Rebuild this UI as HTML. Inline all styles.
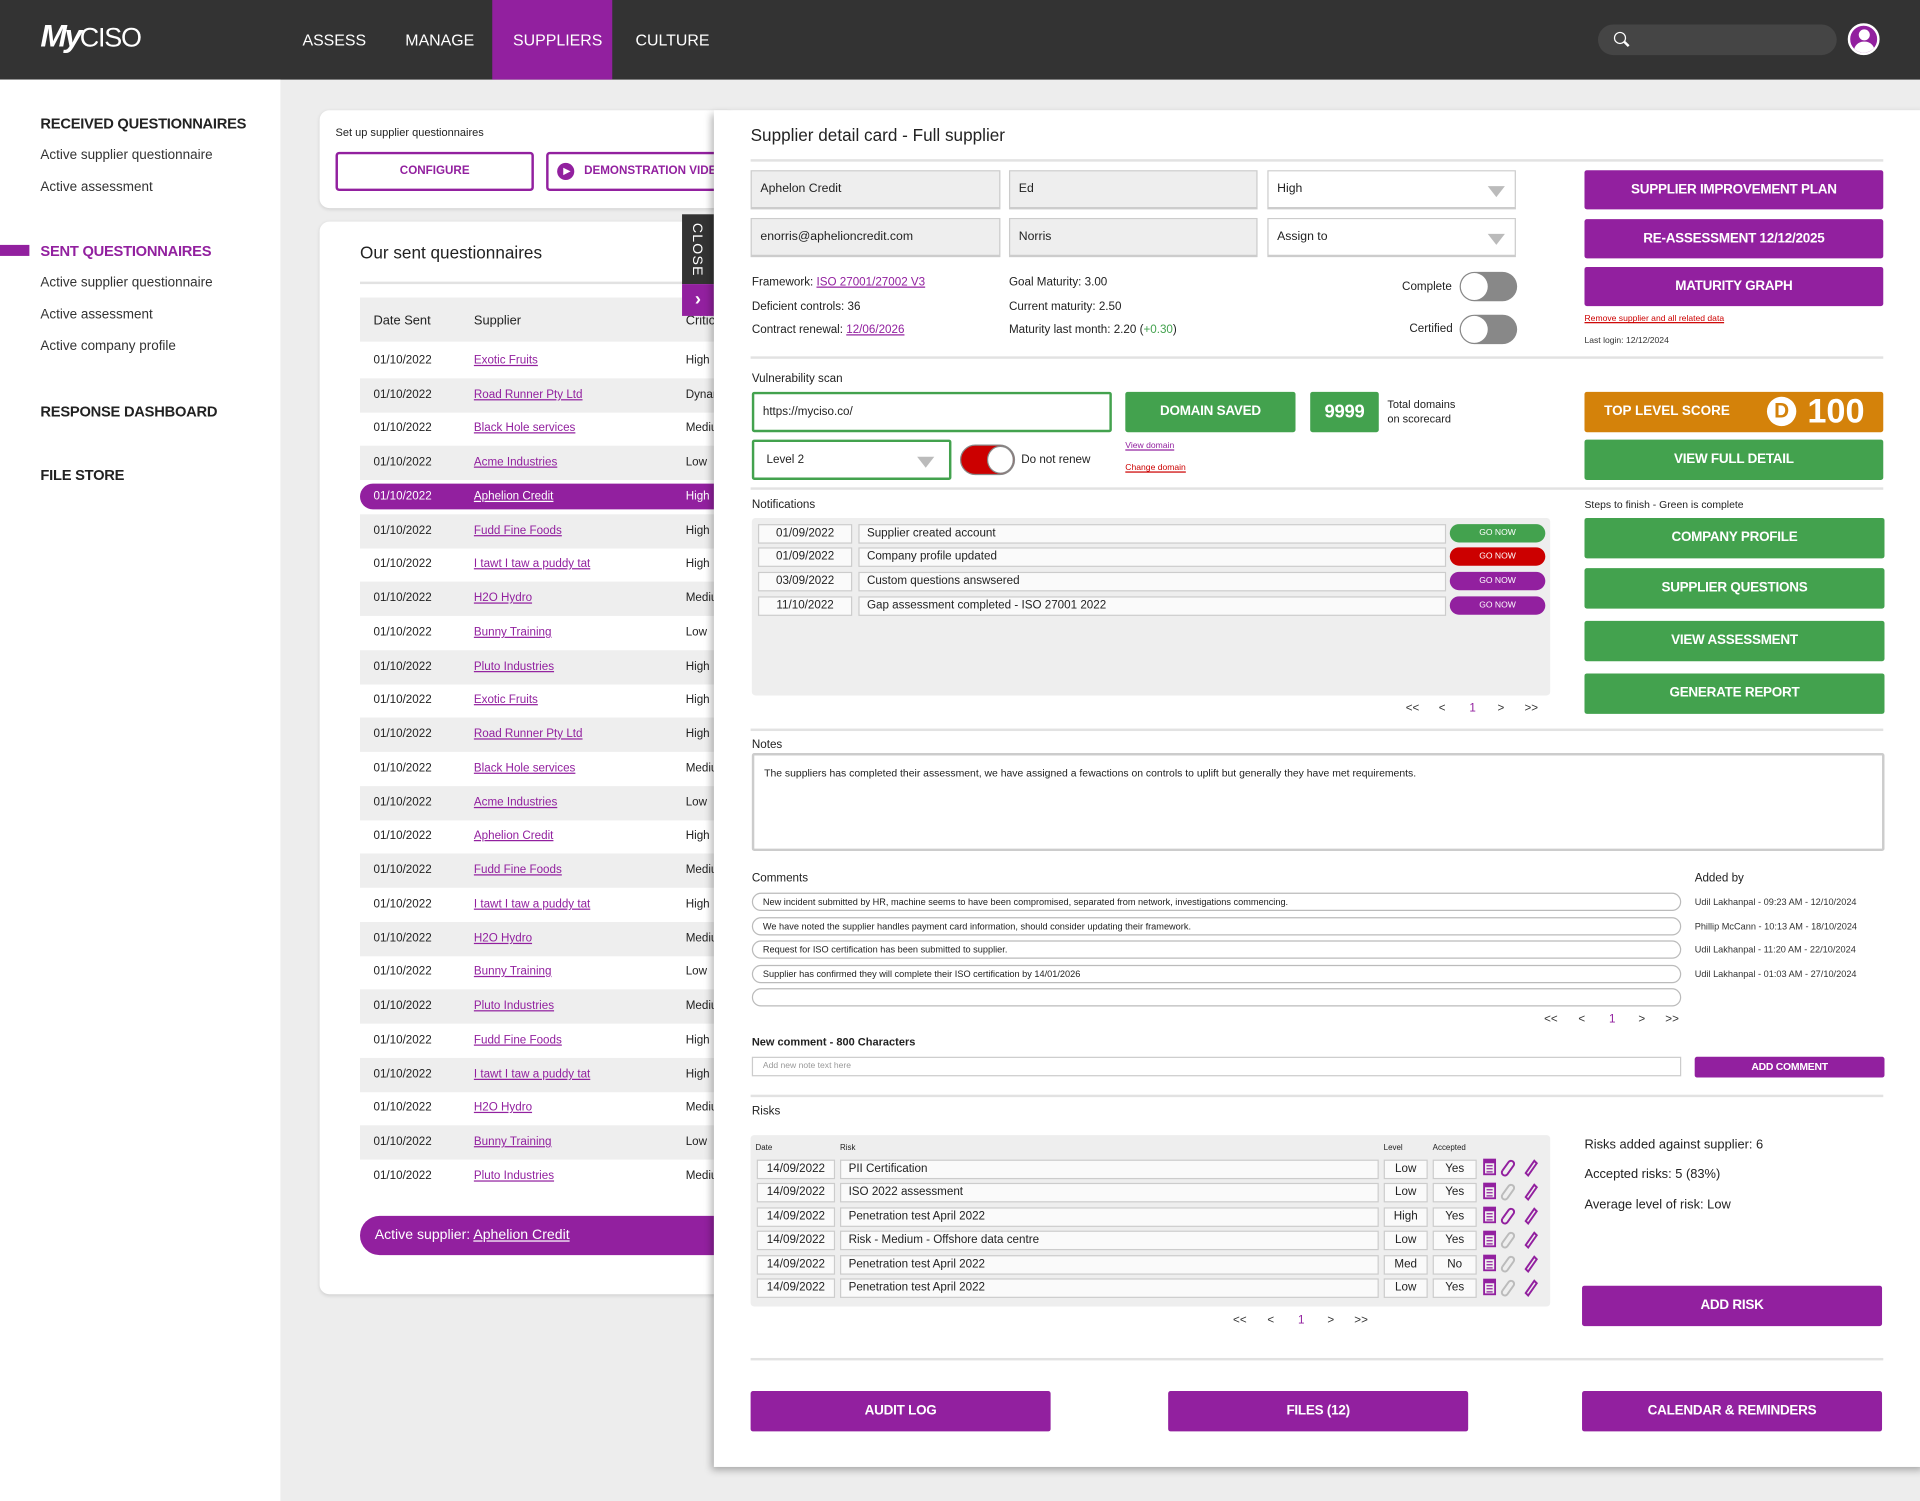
<!DOCTYPE html>
<html><head><meta charset="utf-8"><style>
*{box-sizing:border-box;margin:0;padding:0}
body{width:1920px;height:1501px;overflow:hidden;background:#ededed;font-family:"Liberation Sans",sans-serif;color:#222}
#w{position:absolute;left:0;top:0;width:1568px;height:1226px;transform:scale(1.22449);transform-origin:0 0}
.a{position:absolute;white-space:nowrap}
.bar{background:#333}
.nav{color:#fff;font-size:13px;top:25px}
.sb{font-size:12px;font-weight:bold;color:#222;left:33px;letter-spacing:-0.2px}
.si{font-size:11px;color:#333;left:33px}
.card{background:#fff;border-radius:8px;box-shadow:0 1px 3px rgba(0,0,0,.12)}
.lnk{color:#92209f;text-decoration:underline}
.row{left:294px;width:290px;height:28px;font-size:9.5px;line-height:28px}
.row span{position:absolute}
.g{background:#eee}
.pb{background:#92209f;color:#fff;font-size:11px;text-align:center;border-radius:2px;font-weight:bold;letter-spacing:-0.2px}
.gb{background:#43a24e;color:#fff;font-size:11px;text-align:center;border-radius:2px;font-weight:bold;letter-spacing:-0.2px}
.inp{background:#eee;border:1px solid #ccc;border-bottom:2px solid #ccc;font-size:10px;padding-left:7px;line-height:30px}
.sel{background:#fff;border:1px solid #ccc;border-bottom:2px solid #ccc;font-size:10px;padding-left:7px;line-height:30px}
.tri{position:absolute;right:8px;top:12px;width:0;height:0;border-left:7px solid transparent;border-right:7px solid transparent;border-top:9px solid #bbb}
.t{font-size:9.5px;color:#222}
.hl{height:2px;background:#e2e2e2;left:613px;width:925px}
.nb{background:#fafafa;border:1px solid #ccc;font-size:9.5px;line-height:14px;padding-left:6px;height:16px}
.go{font-size:7px;color:#fff;text-align:center;line-height:15px;border-radius:8px;height:15px;width:78px;left:1184px}
.cm{left:614px;width:759px;height:15px;border:1px solid #bbb;border-radius:8px;font-size:7.5px;line-height:13px;padding-left:8px}
.ab{left:1384px;font-size:7.5px;color:#333}
.pg{font-size:9.5px;color:#333}
</style></head><body><div id="w">
<div class="a bar" style="left:0;top:0;width:1568px;height:65px"></div>
<div class="a" style="left:33px;top:14px;color:#fff;font-size:26px;font-weight:bold;letter-spacing:-2px;font-style:italic">My<span style="font-weight:normal;font-style:normal;letter-spacing:-1px;font-size:22px">CISO</span></div>
<div class="a nav" style="left:247px">ASSESS</div>
<div class="a nav" style="left:331px">MANAGE</div>
<div class="a" style="left:402px;top:0;width:98px;height:65px;background:#92209f"></div>
<div class="a nav" style="left:419px">SUPPLIERS</div>
<div class="a nav" style="left:519px">CULTURE</div>
<div class="a" style="left:1305px;top:20px;width:195px;height:25px;border-radius:13px;background:#454545"></div>
<div class="a" style="left:1318px;top:26px;width:10px;height:10px;border:1.5px solid #fff;border-radius:50%"></div>
<div class="a" style="left:1326px;top:35px;width:5px;height:1.5px;background:#fff;transform:rotate(45deg)"></div>
<div class="a" style="left:1509px;top:19px;width:26px;height:26px;border-radius:50%;background:#92209f;border:2px solid #fff;overflow:hidden"><div class="a" style="left:7px;top:3px;width:9px;height:9px;border-radius:50%;background:#fff"></div><div class="a" style="left:3px;top:13px;width:17px;height:12px;border-radius:8px 8px 0 0;background:#fff"></div></div>

<div class="a" style="left:0;top:65px;width:229px;height:1161px;background:#fff"></div>
<div class="a sb" style="top:94px">RECEIVED QUESTIONNAIRES</div>
<div class="a si" style="top:121px">Active supplier questionnaire</div>
<div class="a si" style="top:147px">Active assessment</div>
<div class="a" style="left:0;top:200px;width:24px;height:9px;background:#92209f"></div>
<div class="a sb" style="top:198px;color:#92209f">SENT QUESTIONNAIRES</div>
<div class="a si" style="top:225px">Active supplier questionnaire</div>
<div class="a si" style="top:251px">Active assessment</div>
<div class="a si" style="top:277px">Active company profile</div>
<div class="a sb" style="top:329px">RESPONSE DASHBOARD</div>
<div class="a sb" style="top:381px">FILE STORE</div>

<div class="a card" style="left:261px;top:90px;width:340px;height:80px"></div>
<div class="a" style="left:274px;top:103px;font-size:9px">Set up supplier questionnaires</div>
<div class="a" style="left:274px;top:124px;width:162px;height:32px;border:2px solid #92209f;border-radius:3px;color:#92209f;font-weight:bold;font-size:9.5px;text-align:center;line-height:28px">CONFIGURE</div>
<div class="a" style="left:446px;top:124px;width:160px;height:32px;border:2px solid #92209f;border-radius:3px;color:#92209f;font-weight:bold;font-size:9.5px;line-height:28px;padding-left:29px">DEMONSTRATION VIDEO</div>
<div class="a" style="left:455px;top:133px;width:14px;height:14px;border-radius:50%;background:#92209f"></div>
<div class="a" style="left:460px;top:137px;border-left:6px solid #fff;border-top:3px solid transparent;border-bottom:3px solid transparent"></div>

<div class="a card" style="left:261px;top:181px;width:340px;height:876px"></div>
<div class="a" style="left:294px;top:198px;font-size:14px">Our sent questionnaires</div>
<div class="a" style="left:294px;top:230px;width:290px;height:2px;background:#e2e2e2"></div>
<div class="a g" style="left:294px;top:243px;width:290px;height:36px"></div>
<div class="a" style="left:305px;top:256px;font-size:10.5px">Date Sent</div>
<div class="a" style="left:387px;top:256px;font-size:10.5px">Supplier</div>
<div class="a" style="left:560px;top:256px;font-size:10.5px">Criticality</div>

<div class="a row" style="top:281px"><span style="left:11px">01/10/2022</span><span style="left:93px" class="lnk">Exotic Fruits</span><span style="left:266px">High</span></div>
<div class="a row g" style="top:309px"><span style="left:11px">01/10/2022</span><span style="left:93px" class="lnk">Road Runner Pty Ltd</span><span style="left:266px">Dynamic</span></div>
<div class="a row" style="top:336px"><span style="left:11px">01/10/2022</span><span style="left:93px" class="lnk">Black Hole services</span><span style="left:266px">Medium</span></div>
<div class="a row g" style="top:364px"><span style="left:11px">01/10/2022</span><span style="left:93px" class="lnk">Acme Industries</span><span style="left:266px">Low</span></div>
<div class="a row" style="top:395px;height:21px;line-height:21px;background:#92209f;color:#fff;border-radius:11px 0 0 11px"><span style="left:11px">01/10/2022</span><span style="left:93px;text-decoration:underline">Aphelion Credit</span><span style="left:266px">High</span></div>
<div class="a row g" style="top:420px"><span style="left:11px">01/10/2022</span><span style="left:93px" class="lnk">Fudd Fine Foods</span><span style="left:266px">High</span></div>
<div class="a row" style="top:447px"><span style="left:11px">01/10/2022</span><span style="left:93px" class="lnk">I tawt I taw a puddy tat</span><span style="left:266px">High</span></div>
<div class="a row g" style="top:475px"><span style="left:11px">01/10/2022</span><span style="left:93px" class="lnk">H2O Hydro</span><span style="left:266px">Medium</span></div>
<div class="a row" style="top:503px"><span style="left:11px">01/10/2022</span><span style="left:93px" class="lnk">Bunny Training</span><span style="left:266px">Low</span></div>
<div class="a row g" style="top:531px"><span style="left:11px">01/10/2022</span><span style="left:93px" class="lnk">Pluto Industries</span><span style="left:266px">High</span></div>
<div class="a row" style="top:558px"><span style="left:11px">01/10/2022</span><span style="left:93px" class="lnk">Exotic Fruits</span><span style="left:266px">High</span></div>
<div class="a row g" style="top:586px"><span style="left:11px">01/10/2022</span><span style="left:93px" class="lnk">Road Runner Pty Ltd</span><span style="left:266px">High</span></div>
<div class="a row" style="top:614px"><span style="left:11px">01/10/2022</span><span style="left:93px" class="lnk">Black Hole services</span><span style="left:266px">Medium</span></div>
<div class="a row g" style="top:642px"><span style="left:11px">01/10/2022</span><span style="left:93px" class="lnk">Acme Industries</span><span style="left:266px">Low</span></div>
<div class="a row" style="top:669px"><span style="left:11px">01/10/2022</span><span style="left:93px" class="lnk">Aphelion Credit</span><span style="left:266px">High</span></div>
<div class="a row g" style="top:697px"><span style="left:11px">01/10/2022</span><span style="left:93px" class="lnk">Fudd Fine Foods</span><span style="left:266px">Medium</span></div>
<div class="a row" style="top:725px"><span style="left:11px">01/10/2022</span><span style="left:93px" class="lnk">I tawt I taw a puddy tat</span><span style="left:266px">High</span></div>
<div class="a row g" style="top:753px"><span style="left:11px">01/10/2022</span><span style="left:93px" class="lnk">H2O Hydro</span><span style="left:266px">Medium</span></div>
<div class="a row" style="top:780px"><span style="left:11px">01/10/2022</span><span style="left:93px" class="lnk">Bunny Training</span><span style="left:266px">Low</span></div>
<div class="a row g" style="top:808px"><span style="left:11px">01/10/2022</span><span style="left:93px" class="lnk">Pluto Industries</span><span style="left:266px">Medium</span></div>
<div class="a row" style="top:836px"><span style="left:11px">01/10/2022</span><span style="left:93px" class="lnk">Fudd Fine Foods</span><span style="left:266px">High</span></div>
<div class="a row g" style="top:864px"><span style="left:11px">01/10/2022</span><span style="left:93px" class="lnk">I tawt I taw a puddy tat</span><span style="left:266px">High</span></div>
<div class="a row" style="top:891px"><span style="left:11px">01/10/2022</span><span style="left:93px" class="lnk">H2O Hydro</span><span style="left:266px">Medium</span></div>
<div class="a row g" style="top:919px"><span style="left:11px">01/10/2022</span><span style="left:93px" class="lnk">Bunny Training</span><span style="left:266px">Low</span></div>
<div class="a row" style="top:947px"><span style="left:11px">01/10/2022</span><span style="left:93px" class="lnk">Pluto Industries</span><span style="left:266px">Medium</span></div>
<div class="a" style="left:294px;top:993px;width:300px;height:32px;background:#92209f;border-radius:16px 0 0 16px;color:#fff;font-size:11.5px;line-height:32px;padding-left:12px">Active supplier: <span style="text-decoration:underline">Aphelion Credit</span></div>

<div class="a" style="left:557px;top:175px;width:26px;height:57px;background:#333"></div>
<div class="a" style="left:563px;top:182px;color:#fff;font-size:11.5px;writing-mode:vertical-rl;letter-spacing:1px">CLOSE</div>
<div class="a" style="left:557px;top:232px;width:26px;height:26px;background:#92209f;color:#fff;font-size:15px;font-weight:bold;text-align:center;line-height:26px">›</div>

<div class="a" style="left:583px;top:90px;width:990px;height:1108px;background:#fff;box-shadow:-2px 3px 6px rgba(0,0,0,.3)"></div>
<div class="a" style="left:613px;top:102px;font-size:14px">Supplier detail card - Full supplier</div>
<div class="a hl" style="top:130px"></div>
<div class="a inp" style="left:613px;top:139px;width:204px;height:32px">Aphelon Credit</div>
<div class="a inp" style="left:824px;top:139px;width:203px;height:32px">Ed</div>
<div class="a sel" style="left:1035px;top:139px;width:203px;height:32px">High<div class="tri"></div></div>
<div class="a inp" style="left:613px;top:178px;width:204px;height:32px">enorris@aphelioncredit.com</div>
<div class="a inp" style="left:824px;top:178px;width:203px;height:32px">Norris</div>
<div class="a sel" style="left:1035px;top:178px;width:203px;height:32px">Assign to<div class="tri"></div></div>
<div class="a pb" style="left:1294px;top:139px;width:244px;height:32px;line-height:32px">SUPPLIER IMPROVEMENT PLAN</div>
<div class="a pb" style="left:1294px;top:179px;width:244px;height:32px;line-height:32px">RE-ASSESSMENT 12/12/2025</div>
<div class="a pb" style="left:1294px;top:218px;width:244px;height:32px;line-height:32px">MATURITY GRAPH</div>
<div class="a t" style="left:614px;top:225px">Framework: <span class="lnk">ISO 27001/27002 V3</span></div>
<div class="a t" style="left:614px;top:245px">Deficient controls: 36</div>
<div class="a t" style="left:614px;top:264px">Contract renewal: <span class="lnk">12/06/2026</span></div>
<div class="a t" style="left:824px;top:225px">Goal Maturity: 3.00</div>
<div class="a t" style="left:824px;top:245px">Current maturity: 2.50</div>
<div class="a t" style="left:824px;top:264px">Maturity last month: 2.20 (<span style="color:#43a24e">+0.30</span>)</div>
<div class="a t" style="left:1145px;top:229px">Complete</div>
<div class="a t" style="left:1151px;top:263px">Certified</div>
<div class="a" style="left:1192px;top:222px;width:47px;height:24px;border-radius:12px;background:#888"></div>
<div class="a" style="left:1193px;top:223px;width:22px;height:22px;border-radius:50%;background:#fff"></div>
<div class="a" style="left:1192px;top:257px;width:47px;height:24px;border-radius:12px;background:#888"></div>
<div class="a" style="left:1193px;top:258px;width:22px;height:22px;border-radius:50%;background:#fff"></div>
<div class="a" style="left:1294px;top:257px;font-size:7px;color:#c00;text-decoration:underline">Remove supplier and all related data</div>
<div class="a" style="left:1294px;top:275px;font-size:7px;color:#333">Last login: 12/12/2024</div>
<div class="a hl" style="top:291px"></div>

<div class="a t" style="left:614px;top:304px">Vulnerability scan</div>
<div class="a" style="left:614px;top:320px;width:294px;height:33px;border:2px solid #43a24e;border-radius:2px;font-size:9.5px;line-height:29px;padding-left:7px">https://myciso.co/</div>
<div class="a gb" style="left:919px;top:320px;width:139px;height:33px;line-height:33px">DOMAIN SAVED</div>
<div class="a gb" style="left:1070px;top:320px;width:56px;height:33px;line-height:33px;font-size:15px">9999</div>
<div class="a" style="left:1133px;top:324px;font-size:9px;line-height:12px">Total domains<br>on scorecard</div>
<div class="a" style="left:1294px;top:320px;width:244px;height:33px;background:#d4820a;border-radius:2px"></div>
<div class="a" style="left:1310px;top:330px;color:#fff;font-size:11px;font-weight:bold">TOP LEVEL SCORE</div>
<div class="a" style="left:1443px;top:324px;width:24px;height:24px;border-radius:50%;background:#fff;color:#d4820a;font-weight:bold;font-size:17px;text-align:center;line-height:24px">D</div>
<div class="a" style="left:1476px;top:320px;color:#fff;font-size:28px;font-weight:bold">100</div>
<div class="a" style="left:614px;top:359px;width:163px;height:33px;border:2px solid #43a24e;border-radius:2px;font-size:9.5px;line-height:29px;padding-left:10px">Level 2<div class="tri" style="right:12px"></div></div>
<div class="a" style="left:784px;top:363px;width:45px;height:25px;border-radius:13px;background:#c00;border:1px solid #888"></div>
<div class="a" style="left:806px;top:364px;width:22px;height:23px;border-radius:50%;background:#fff;border:1px solid #888"></div>
<div class="a t" style="left:834px;top:370px">Do not renew</div>
<div class="a" style="left:919px;top:361px;font-size:7px"><span class="lnk">View domain</span></div>
<div class="a" style="left:919px;top:379px;font-size:7px;color:#c00;text-decoration:underline">Change domain</div>
<div class="a gb" style="left:1294px;top:359px;width:244px;height:33px;line-height:33px">VIEW FULL DETAIL</div>
<div class="a hl" style="top:398px"></div>

<div class="a t" style="left:614px;top:407px">Notifications</div>
<div class="a t" style="left:1294px;top:407px;font-size:8.5px">Steps to finish - Green is complete</div>
<div class="a" style="left:614px;top:423px;width:652px;height:145px;background:#eee;border-radius:3px"></div>
<div class="a nb" style="left:619px;top:428px;width:77px;text-align:center;padding:0">01/09/2022</div>
<div class="a nb" style="left:701px;top:428px;width:480px">Supplier created account</div>
<div class="a go" style="top:428px;background:#43a24e">GO NOW</div>
<div class="a nb" style="left:619px;top:447px;width:77px;text-align:center;padding:0">01/09/2022</div>
<div class="a nb" style="left:701px;top:447px;width:480px">Company profile updated</div>
<div class="a go" style="top:447px;background:#c00">GO NOW</div>
<div class="a nb" style="left:619px;top:467px;width:77px;text-align:center;padding:0">03/09/2022</div>
<div class="a nb" style="left:701px;top:467px;width:480px">Custom questions answsered</div>
<div class="a go" style="top:467px;background:#92209f">GO NOW</div>
<div class="a nb" style="left:619px;top:487px;width:77px;text-align:center;padding:0">11/10/2022</div>
<div class="a nb" style="left:701px;top:487px;width:480px">Gap assessment completed - ISO 27001 2022</div>
<div class="a go" style="top:487px;background:#92209f">GO NOW</div>
<div class="a gb" style="left:1294px;top:423px;width:245px;height:33px;line-height:33px">COMPANY PROFILE</div>
<div class="a gb" style="left:1294px;top:464px;width:245px;height:33px;line-height:33px">SUPPLIER QUESTIONS</div>
<div class="a gb" style="left:1294px;top:507px;width:245px;height:33px;line-height:33px">VIEW ASSESSMENT</div>
<div class="a gb" style="left:1294px;top:550px;width:245px;height:33px;line-height:33px">GENERATE REPORT</div>
<div class="a pg" style="left:1148px;top:573px">&lt;&lt;</div><div class="a pg" style="left:1175px;top:573px">&lt;</div><div class="a pg" style="left:1200px;top:573px;color:#92209f">1</div><div class="a pg" style="left:1223px;top:573px">&gt;</div><div class="a pg" style="left:1245px;top:573px">&gt;&gt;</div>
<div class="a hl" style="top:595px"></div>

<div class="a t" style="left:614px;top:603px">Notes</div>
<div class="a" style="left:614px;top:615px;width:925px;height:80px;border:2px solid #ccc;border-radius:2px;font-size:8.5px;padding:9px 8px">The suppliers has completed their assessment, we have assigned a fewactions on controls to uplift but generally they have met requirements.</div>

<div class="a t" style="left:614px;top:712px">Comments</div>
<div class="a t" style="left:1384px;top:712px">Added by</div>
<div class="a cm" style="top:729px">New incident submitted by HR, machine seems to have been compromised, separated from network, investigations commencing.</div>
<div class="a cm" style="top:749px">We have noted the supplier handles payment card information, should consider updating their framework.</div>
<div class="a cm" style="top:768px">Request for ISO certification has been submitted to supplier.</div>
<div class="a cm" style="top:788px">Supplier has confirmed they will complete their ISO certification by 14/01/2026</div>
<div class="a cm" style="top:807px"></div>
<div class="a ab" style="top:732px">Udil Lakhanpal - 09:23 AM - 12/10/2024</div>
<div class="a ab" style="top:752px">Phillip McCann - 10:13 AM - 18/10/2024</div>
<div class="a ab" style="top:771px">Udil Lakhanpal - 11:20 AM - 22/10/2024</div>
<div class="a ab" style="top:791px">Udil Lakhanpal - 01:03 AM - 27/10/2024</div>
<div class="a pg" style="left:1261px;top:827px">&lt;&lt;</div><div class="a pg" style="left:1289px;top:827px">&lt;</div><div class="a pg" style="left:1314px;top:827px;color:#92209f">1</div><div class="a pg" style="left:1338px;top:827px">&gt;</div><div class="a pg" style="left:1360px;top:827px">&gt;&gt;</div>
<div class="a t" style="left:614px;top:846px;font-weight:bold;font-size:9px">New comment - 800 Characters</div>
<div class="a" style="left:614px;top:863px;width:759px;height:16px;border:1px solid #ccc;font-size:7px;color:#999;line-height:14px;padding-left:8px">Add new note text here</div>
<div class="a pb" style="left:1384px;top:863px;width:155px;height:17px;line-height:17px;font-size:8.5px">ADD COMMENT</div>
<div class="a hl" style="top:894px"></div>

<div class="a t" style="left:614px;top:902px">Risks</div>
<div class="a" style="left:613px;top:927px;width:653px;height:140px;background:#eee;border-radius:3px"></div>
<div class="a" style="left:617px;top:934px;font-size:6.5px">Date</div>
<div class="a" style="left:686px;top:934px;font-size:6.5px">Risk</div>
<div class="a" style="left:1130px;top:934px;font-size:6.5px">Level</div>
<div class="a" style="left:1170px;top:934px;font-size:6.5px">Accepted</div>

<svg class="a" style="left:1210px;top:945px" width="50" height="120" viewBox="0 0 50 120">
<defs>
<g id="cal"><rect x="2" y="2" width="9" height="12" fill="none" stroke="#92209f" stroke-width="1.5"/><rect x="2" y="2" width="9" height="3" fill="#92209f"/><path d="M4 7h5M4 9.5h5M4 12h5" stroke="#92209f" stroke-width="1"/></g>
<g id="pen"><path d="M36 13 L43 3 L45 5 L38 15 Z" fill="none" stroke="#92209f" stroke-width="1.6"/></g>
<g id="lk"><path d="M17 11 L22 4 a2.5 2.5 0 0 1 4 3 L21 14 a2.5 2.5 0 0 1 -4 -3" fill="none" stroke-width="1.6"/></g>
</defs>
<g><use href="#cal"/><use href="#lk" stroke="#92209f"/><use href="#pen"/></g>
<g transform="translate(0,19.6)"><use href="#cal"/><use href="#lk" stroke="#bbb"/><use href="#pen"/></g>
<g transform="translate(0,39.2)"><use href="#cal"/><use href="#lk" stroke="#92209f"/><use href="#pen"/></g>
<g transform="translate(0,58.8)"><use href="#cal"/><use href="#lk" stroke="#bbb"/><use href="#pen"/></g>
<g transform="translate(0,78.4)"><use href="#cal"/><use href="#lk" stroke="#bbb"/><use href="#pen"/></g>
<g transform="translate(0,98)"><use href="#cal"/><use href="#lk" stroke="#bbb"/><use href="#pen"/></g>
</svg>

<div class="a nb" style="left:618px;top:947px;width:64px;text-align:center;padding:0">14/09/2022</div><div class="a nb" style="left:686px;top:947px;width:440px">PII Certification</div><div class="a nb" style="left:1130px;top:947px;width:36px;text-align:center;padding:0">Low</div><div class="a nb" style="left:1170px;top:947px;width:36px;text-align:center;padding:0">Yes</div>
<div class="a nb" style="left:618px;top:966px;width:64px;text-align:center;padding:0">14/09/2022</div><div class="a nb" style="left:686px;top:966px;width:440px">ISO 2022 assessment</div><div class="a nb" style="left:1130px;top:966px;width:36px;text-align:center;padding:0">Low</div><div class="a nb" style="left:1170px;top:966px;width:36px;text-align:center;padding:0">Yes</div>
<div class="a nb" style="left:618px;top:986px;width:64px;text-align:center;padding:0">14/09/2022</div><div class="a nb" style="left:686px;top:986px;width:440px">Penetration test April 2022</div><div class="a nb" style="left:1130px;top:986px;width:36px;text-align:center;padding:0">High</div><div class="a nb" style="left:1170px;top:986px;width:36px;text-align:center;padding:0">Yes</div>
<div class="a nb" style="left:618px;top:1005px;width:64px;text-align:center;padding:0">14/09/2022</div><div class="a nb" style="left:686px;top:1005px;width:440px">Risk - Medium - Offshore data centre</div><div class="a nb" style="left:1130px;top:1005px;width:36px;text-align:center;padding:0">Low</div><div class="a nb" style="left:1170px;top:1005px;width:36px;text-align:center;padding:0">Yes</div>
<div class="a nb" style="left:618px;top:1025px;width:64px;text-align:center;padding:0">14/09/2022</div><div class="a nb" style="left:686px;top:1025px;width:440px">Penetration test April 2022</div><div class="a nb" style="left:1130px;top:1025px;width:36px;text-align:center;padding:0">Med</div><div class="a nb" style="left:1170px;top:1025px;width:36px;text-align:center;padding:0">No</div>
<div class="a nb" style="left:618px;top:1044px;width:64px;text-align:center;padding:0">14/09/2022</div><div class="a nb" style="left:686px;top:1044px;width:440px">Penetration test April 2022</div><div class="a nb" style="left:1130px;top:1044px;width:36px;text-align:center;padding:0">Low</div><div class="a nb" style="left:1170px;top:1044px;width:36px;text-align:center;padding:0">Yes</div>

<div class="a" style="left:1294px;top:929px;font-size:10.5px">Risks added against supplier: 6</div>
<div class="a" style="left:1294px;top:953px;font-size:10.5px">Accepted risks: 5 (83%)</div>
<div class="a" style="left:1294px;top:978px;font-size:10.5px">Average level of risk: Low</div>
<div class="a pb" style="left:1292px;top:1050px;width:245px;height:33px;line-height:33px">ADD RISK</div>
<div class="a pg" style="left:1007px;top:1073px">&lt;&lt;</div><div class="a pg" style="left:1035px;top:1073px">&lt;</div><div class="a pg" style="left:1060px;top:1073px;color:#92209f">1</div><div class="a pg" style="left:1084px;top:1073px">&gt;</div><div class="a pg" style="left:1106px;top:1073px">&gt;&gt;</div>
<div class="a hl" style="top:1109px"></div>
<div class="a pb" style="left:613px;top:1136px;width:245px;height:33px;line-height:33px">AUDIT LOG</div>
<div class="a pb" style="left:954px;top:1136px;width:245px;height:33px;line-height:33px">FILES (12)</div>
<div class="a pb" style="left:1292px;top:1136px;width:245px;height:33px;line-height:33px">CALENDAR &amp; REMINDERS</div>
</div></body></html>
